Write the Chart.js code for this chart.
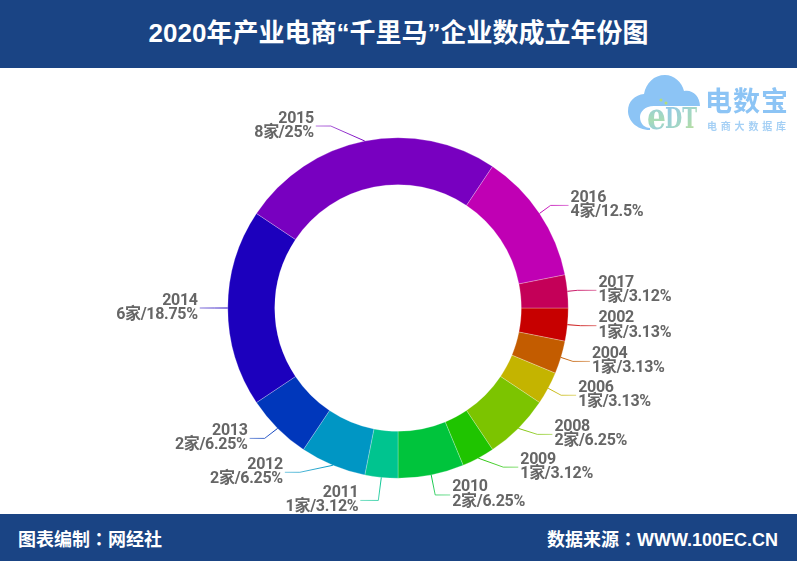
<!DOCTYPE html>
<html><head><meta charset="utf-8">
<script src="https://cdn.jsdelivr.net/npm/chart.js@4"></script>
<style>
html,body{margin:0;padding:0;background:#fff;overflow:hidden}
body{width:797px;height:561px;position:relative;font-family:"Liberation Sans","Noto Sans CJK SC",sans-serif;font-weight:700;color:#fff}
#top,#bot{position:absolute;left:0;width:797px;background:#1a4484;z-index:2}
#top{top:0;height:68px;text-align:center;font-size:26px;line-height:67px}
#bot{top:514px;height:47px;font-size:18px;line-height:49px}
#bot .l{position:absolute;left:18px}#bot .r{position:absolute;right:19px}
.c{font-family:"Noto Sans CJK TC"}
#c{position:absolute;left:0;top:68px}
#logo{position:absolute;left:620px;top:68px;z-index:3}
</style></head><body>
<div id="top">2020年产业电商“千里马”企业数成立年份图</div>
<canvas id="c" width="797" height="480"></canvas>
<svg id="logo" width="177" height="72" viewBox="0 0 177 72">
<defs>
<linearGradient id="g" x1="0" y1="0" x2="0" y2="1"><stop offset="0" stop-color="#8cc4f5"/><stop offset="0.6" stop-color="#a8dcb4"/><stop offset="1" stop-color="#8cc4f5"/></linearGradient>
<linearGradient id="h" x1="0" y1="0" x2="1" y2="1"><stop offset="0" stop-color="#8cc4f5"/><stop offset="0.6" stop-color="#a4d8c0"/><stop offset="1" stop-color="#c4e08c"/></linearGradient>
</defs>
<path d="M30 62C16 62 8 52 8 43C8 33 15 27 24 26C26 15 34 7 45 7C54 7 62 14 64 23C72 21 80 28 80 38L36 38C26 37 20 43 20 49C20 56 25 60 30 60Z" fill="#8cc4f5"/>
<text x="27" y="61" font-family="DejaVu Serif" font-size="35" font-weight="700" fill="url(#g)" textLength="19" lengthAdjust="spacingAndGlyphs">e</text>
<circle cx="41" cy="32" r="1.5" fill="#b4dc78"/><circle cx="46" cy="35" r="1.5" fill="#b4dc78"/>
<text x="45" y="60" font-family="DejaVu Serif" font-size="28" font-weight="700" fill="url(#h)" textLength="32" lengthAdjust="spacingAndGlyphs">DT</text>
<text x="85" y="43" font-family="Noto Sans CJK SC" font-size="27" font-weight="700" fill="#8cc4f5" textLength="83">电数宝</text>
<text x="87" y="62" font-family="Noto Sans CJK SC" font-size="10" font-weight="700" fill="#a5d0f5" textLength="79">电商大数据库</text>
</svg>
<div id="bot"><span class="l">图表编制<span class="c">：</span>网经社</span><span class="r">数据来源<span class="c">：</span>WWW.100EC.CN</span></div>
<script>
const years=["2002","2004","2006","2008","2009","2010","2011","2012","2013","2014","2015","2016","2017"];
const counts=[1,1,1,2,1,2,1,2,2,6,8,4,1];
const shares=["3.13%","3.13%","3.13%","6.25%","3.12%","6.25%","3.12%","6.25%","6.25%","18.75%","25%","12.5%","3.12%"];
const colors=["#c70000","#c35c00","#c4b400","#7cc400","#1fc400","#00c43c","#00c48f","#0096c4","#0037bb","#1c00bd","#7800c0","#c000b4","#c40058"];
// leader geometry relative to each slice's outer-edge anchor: elbow dx, elbow dy, horizontal run
const leaders=[[13,1,16],[12,4,17],[13,7,15],[19,6,15],[25,9,15],[4,20,15],[-3,23,18],[-33,7,15],[-13,10,15],[-13,0,15],[-34,-15,15],[11,-8,18],[10,-1,19]];
const unit="家/";
const labelPlugin={id:"labels",afterDatasetsDraw(chart){
  const ctx=chart.ctx, arcs=chart.getDatasetMeta(0).data;
  arcs.forEach((a,i)=>{
    const mid=(a.startAngle+a.endAngle)/2;
    const x0=a.x+Math.cos(mid)*a.outerRadius, y0=a.y+Math.sin(mid)*a.outerRadius;
    const [dx,dy,run]=leaders[i];
    const right=(i<=5||i>=11);
    const x1=x0+dx,y1=y0+dy,x2=x1+(right?run:-run);
    const g=ctx.createLinearGradient(x0,y0,x2,y1);
    g.addColorStop(0,colors[i]);g.addColorStop(1,colors[i]+"88");
    ctx.save();ctx.strokeStyle=g;ctx.lineWidth=1;ctx.beginPath();ctx.moveTo(x0,y0);ctx.lineTo(x1,y1);ctx.lineTo(x2,y1);ctx.stroke();
    ctx.fillStyle="#666";ctx.font='700 16px Roboto,"Noto Sans CJK SC"';ctx.letterSpacing="-0.3px";ctx.textBaseline="middle";
    ctx.textAlign=right?"left":"right";
    const tx=x2+(right?2:-2);
    ctx.fillText(years[i],tx,y1-7.5);
    ctx.fillText(counts[i]+unit+shares[i],tx,y1+7);
    ctx.restore();
  });
}};
new Chart(document.getElementById("c"),{type:"doughnut",plugins:[labelPlugin],
 data:{labels:years,datasets:[{data:counts,backgroundColor:colors,borderColor:"rgba(255,255,255,0.5)",borderWidth:0.5}]},
 options:{responsive:false,animation:false,rotation:90,cutout:"72.4%",devicePixelRatio:1,
  layout:{padding:{top:69.5,bottom:69.5,right:1}},plugins:{legend:{display:false},tooltip:{enabled:false}}}});
</script></body></html>
